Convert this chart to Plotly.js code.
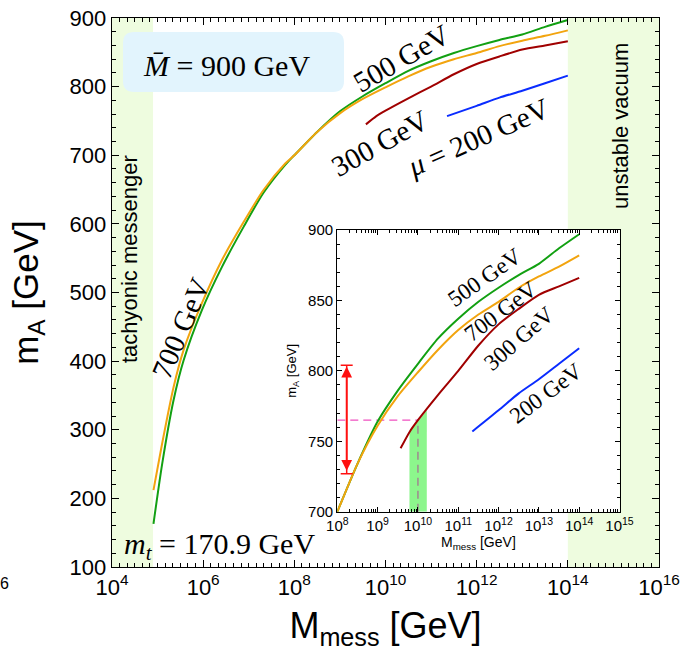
<!DOCTYPE html>
<html>
<head>
<meta charset="utf-8">
<script src="https://cdn.plot.ly/plotly-3.0.1.min.js"></script>
<style>html,body{margin:0;padding:0;background:#fff}#chart{width:686px;height:653px}</style>
</head>
<body>
<div id="chart"></div>
<script>
// ---------- data (x given as log10 of M_mess in GeV, y = m_A in GeV) ----------
const logM_500 = [4.91, 5.10, 5.35, 5.57, 5.97, 6.41, 6.89, 7.32, 7.80, 8.0, 8.5, 9.0, 9.5, 10.0, 10.5, 11.0, 11.5, 12.0, 12.5, 13.0, 13.5, 14.0];
const mA_500   = [163, 250, 343, 401, 474, 537, 596, 645, 686, 700, 734, 764, 786, 805, 823, 837, 849, 859, 868, 876, 887, 897];
const logM_700 = [4.91, 5.10, 5.35, 5.57, 5.97, 6.41, 6.89, 7.32, 7.80, 8.0, 8.5, 9.0, 9.5, 10.0, 10.5, 11.0, 11.5, 12.0, 12.5, 13.0, 13.5, 14.0];
const mA_700   = [212, 280, 362, 416, 484, 547, 603, 649, 688, 700, 734, 761, 782, 799, 815, 829, 840, 849, 859, 867, 874, 882];
const logM_300 = [9.57, 9.8, 10.0, 10.5, 11.0, 11.5, 12.0, 12.5, 13.0, 13.5, 14.0];
const mA_300   = [745, 757, 765, 783, 800, 818, 833, 844, 854, 860, 866];
const logM_200 = [11.35, 12.0, 12.5, 13.0, 13.5, 14.0];
const mA_200   = [757, 772, 784, 794, 805, 816];

// excluded regions (log10 M_mess)
const tachyonicRange = [4.0, 4.9];
const unstableRange  = [14.0, 16.0];

// inset marks
const bandLogM   = [9.79, 9.79, 10.22, 10.22];
const bandMA     = [700, 757, 772, 700];
const refLineMA  = 765;
const refLineLogM = [8.0, 10.0];
const arrowLogM  = 8.233;
const arrowRange = [727, 804];

// tick labels
const mainXTickExp  = [4, 6, 8, 10, 12, 14, 16];
const mainYTicks    = [100, 200, 300, 400, 500, 600, 700, 800, 900];
const insetXTickExp = [8, 9, 10, 11, 12, 13, 14, 15];
const insetYTicks   = [700, 750, 800, 850, 900];

const pw = v => v.map(e => Math.pow(10, e));
const colors = {g: '#12a012', o: '#f2a40e', r: '#a00000', b: '#0a2cff'};
const serif = 'Liberation Serif, Times New Roman, serif';
const sans = 'Liberation Sans, Arial, sans-serif';

function curves(xa, ya) {
  const ln = c => ({color: c, width: 2, shape: 'spline', smoothing: 0.7});
  return [
    {x: pw(logM_500), y: mA_500, mode: 'lines', line: ln(colors.g), xaxis: xa, yaxis: ya, hoverinfo: 'skip'},
    {x: pw(logM_700), y: mA_700, mode: 'lines', line: ln(colors.o), xaxis: xa, yaxis: ya, hoverinfo: 'skip'},
    {x: pw(logM_300), y: mA_300, mode: 'lines', line: ln(colors.r), xaxis: xa, yaxis: ya, hoverinfo: 'skip'},
    {x: pw(logM_200), y: mA_200, mode: 'lines', line: ln(colors.b), xaxis: xa, yaxis: ya, hoverinfo: 'skip'}
  ];
}

const traces = [];
// inset band & reference lines (drawn beneath curves)
traces.push({x: pw(bandLogM), y: bandMA, mode: 'lines', fill: 'toself', fillcolor: 'rgba(120,245,120,0.85)', line: {width: 0}, xaxis: 'x2', yaxis: 'y2', hoverinfo: 'skip'});
traces.push({x: pw(refLineLogM), y: [refLineMA, refLineMA], mode: 'lines', line: {color: '#f050c0', width: 1.2, dash: '8px,5px'}, xaxis: 'x2', yaxis: 'y2', hoverinfo: 'skip'});
traces.push({x: pw([refLineLogM[1], refLineLogM[1]]), y: [insetYTicks[0], refLineMA], mode: 'lines', line: {color: '#a08890', width: 1.5, dash: '8px,5px'}, xaxis: 'x2', yaxis: 'y2', hoverinfo: 'skip'});
traces.push(...curves('x', 'y'));
traces.push(...curves('x2', 'y2'));
// arrow caps
traces.push({x: [Math.pow(10, arrowLogM)], y: [(arrowRange[0] + arrowRange[1]) / 2], mode: 'markers', marker: {size: 0.1, color: 'red'},
  error_y: {type: 'data', array: [(arrowRange[1] - arrowRange[0]) / 2], color: '#ff1010', thickness: 1.5, width: 6}, xaxis: 'x2', yaxis: 'y2', hoverinfo: 'skip'});

// minor tick positions
const mainMinor = [];
for (let e = 4; e < 16; e += 2) for (let k = 1; k < 12; k++) mainMinor.push(Math.pow(10, e + k / 6));
const insetMinor = [];
for (let e = 8; e < 15; e++) for (let m = 2; m <= 9; m++) insetMinor.push(m * Math.pow(10, e));

const supText = e => '10<sup>' + e + '</sup>';

const L = 112, R = 27, T = 18, B = 86, W = 686, H = 653;
const PW = W - L - R, PH = H - T - B;
const px2fx = p => (p - L) / PW;
const py2fy = p => (H - B - p) / PH;

// rounded box path in paper coords (x/y domain of main)
function roundBox(x0, y0, x1, y1, r) {
  const X0 = px2fx(x0), X1 = px2fx(x1), Y0 = py2fy(y1), Y1 = py2fy(y0);
  const rx = r / PW, ry = r / PH;
  return `M${X0 + rx},${Y0} L${X1 - rx},${Y0} Q${X1},${Y0} ${X1},${Y0 + ry} L${X1},${Y1 - ry} Q${X1},${Y1} ${X1 - rx},${Y1} L${X0 + rx},${Y1} Q${X0},${Y1} ${X0},${Y1 - ry} L${X0},${Y0 + ry} Q${X0},${Y0} ${X0 + rx},${Y0} Z`;
}

const axisCommon = {
  showgrid: false, zeroline: false, showline: true, linecolor: '#000', linewidth: 1.3, mirror: 'ticks',
  ticks: 'inside', ticklen: 7, tickwidth: 1, tickcolor: '#000'
};

const layout = {
  width: W, height: H,
  margin: {l: L, r: R, t: T, b: B},
  paper_bgcolor: '#fff', plot_bgcolor: '#fff',
  showlegend: false,
  xaxis: Object.assign({}, axisCommon, {
    type: 'log', range: [4, 16], domain: [0, 1],
    tickmode: 'array', tickvals: pw(mainXTickExp), ticktext: mainXTickExp.map(supText),
    tickfont: {family: sans, size: 22, color: '#000'},
    minor: {tickmode: 'array', tickvals: mainMinor, ticklen: 4, ticks: 'inside', tickcolor: '#000'},
    title: {text: 'M<sub>mess</sub> [GeV]', font: {family: sans, size: 36, color: '#000'}, standoff: 14}
  }),
  yaxis: Object.assign({}, axisCommon, {
    range: [100, 900], domain: [0, 1],
    tickmode: 'array', tickvals: mainYTicks,
    tickfont: {family: sans, size: 22, color: '#000'},
    minor: {dtick: 20, ticklen: 4, ticks: 'inside', tickcolor: '#000'},
    title: {text: 'm<sub>A</sub> [GeV]', font: {family: sans, size: 35, color: '#000'}, standoff: 20}
  }),
  xaxis2: Object.assign({}, axisCommon, {
    type: 'log', range: [8, 15], domain: [px2fx(337.3), px2fx(619.5)], anchor: 'y2',
    ticklen: 5, linewidth: 1.2,
    tickmode: 'array', tickvals: pw(insetXTickExp), ticktext: insetXTickExp.map(supText),
    tickfont: {family: sans, size: 15, color: '#000'},
    minor: {tickmode: 'array', tickvals: insetMinor, ticklen: 3, ticks: 'inside', tickcolor: '#000'},
    title: {text: 'M<sub>mess</sub> [GeV]', font: {family: sans, size: 14, color: '#000'}, standoff: 3}
  }),
  yaxis2: Object.assign({}, axisCommon, {
    range: [700, 900], domain: [py2fy(511.7), py2fy(230)], anchor: 'x2',
    ticklen: 5, linewidth: 1.2,
    tickmode: 'array', tickvals: insetYTicks,
    tickfont: {family: sans, size: 15, color: '#000'},
    minor: {dtick: 10, ticklen: 3, ticks: 'inside', tickcolor: '#000'},
    title: {text: 'm<sub>A</sub> [GeV]', font: {family: sans, size: 13, color: '#000'}, standoff: 8}
  }),
  shapes: [
    {type: 'rect', xref: 'x', yref: 'y domain', x0: Math.pow(10, tachyonicRange[0]), x1: Math.pow(10, tachyonicRange[1]), y0: 0, y1: 1, fillcolor: '#eefcdf', line: {width: 0}, layer: 'below'},
    {type: 'rect', xref: 'x', yref: 'y domain', x0: Math.pow(10, unstableRange[0]), x1: Math.pow(10, unstableRange[1]), y0: 0, y1: 1, fillcolor: '#eefcdf', line: {width: 0}, layer: 'below'},
    {type: 'rect', xref: 'x2 domain', yref: 'y2 domain', x0: 0, x1: 1, y0: 0, y1: 1, fillcolor: '#fff', line: {width: 0}, layer: 'below'},
    {type: 'path', xref: 'x domain', yref: 'y domain', path: roundBox(123, 32, 344, 92, 11), fillcolor: '#e2f4fd', line: {width: 0}, layer: 'above'}
  ],
  annotations: [
    // main panel
    {xref: 'x', yref: 'y', x: 6.52, y: 831, text: '<i>M̄</i> = 900 GeV', showarrow: false, font: {family: serif, size: 30, color: '#000'}},
    {xref: 'x', yref: 'y', x: 10.36, y: 841, text: '500 GeV', textangle: -30, showarrow: false, font: {family: serif, size: 29, color: '#000'}},
    {xref: 'x', yref: 'y', x: 9.88, y: 718, text: '300 GeV', textangle: -29, showarrow: false, font: {family: serif, size: 29, color: '#000'}},
    {xref: 'x', yref: 'y', x: 12.04, y: 727, text: '<i>μ</i> = 200 GeV', textangle: -24, showarrow: false, font: {family: serif, size: 29, color: '#000'}},
    {xref: 'x', yref: 'y', x: 5.51, y: 448, text: '700 GeV', textangle: -67, showarrow: false, font: {family: serif, size: 29, color: '#000'}},
    {xref: 'x', yref: 'y', x: 6.36, y: 130, text: '<i>m<sub>t</sub></i> = 170.9 GeV', showarrow: false, font: {family: serif, size: 30, color: '#000'}},
    {xref: 'x', yref: 'y', x: 4.40, y: 549, text: 'tachyonic messenger', textangle: -90, showarrow: false, font: {family: sans, size: 22, color: '#000'}},
    {xref: 'x', yref: 'y', x: 15.15, y: 743, text: 'unstable vacuum', textangle: -90, showarrow: false, font: {family: sans, size: 22, color: '#000'}},
    {xref: 'paper', yref: 'paper', x: px2fx(4), y: py2fy(583), xanchor: 'center', yanchor: 'middle', text: '6', showarrow: false, font: {family: sans, size: 16, color: '#000'}},
    // inset
    {xref: 'x2', yref: 'y2', x: 11.66, y: 866, text: '500 GeV', textangle: -35, showarrow: false, font: {family: serif, size: 23, color: '#000'}},
    {xref: 'x2', yref: 'y2', x: 12.05, y: 842, text: '700 GeV', textangle: -37, showarrow: false, font: {family: serif, size: 23, color: '#000'}},
    {xref: 'x2', yref: 'y2', x: 12.51, y: 823, text: '300 GeV', textangle: -41, showarrow: false, font: {family: serif, size: 23, color: '#000'}},
    {xref: 'x2', yref: 'y2', x: 13.17, y: 784, text: '200 GeV', textangle: -37, showarrow: false, font: {family: serif, size: 23, color: '#000'}},
    {xref: 'x2', yref: 'y2', axref: 'x2', ayref: 'y2', x: arrowLogM, y: arrowRange[1] - 1, ax: arrowLogM, ay: arrowRange[0] + 1, text: '',
      showarrow: true, arrowside: 'end+start', arrowhead: 2, arrowsize: 1.2, arrowwidth: 1.8, arrowcolor: '#ff1010', standoff: 0, startstandoff: 0}
  ]
};

Plotly.newPlot('chart', traces, layout, {staticPlot: true, displayModeBar: false});
</script>
</body>
</html>
